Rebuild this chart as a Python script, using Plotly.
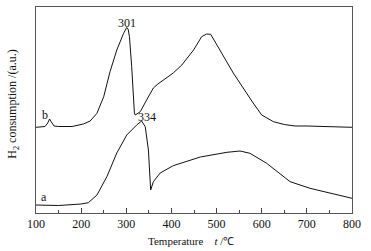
import plotly.graph_objects as go

# Curve b
temp_b = [100, 120, 126, 130, 134, 140, 150, 180, 205, 220, 235, 250, 264, 279, 294, 298, 301, 304, 307, 312, 316, 318, 320, 325, 331, 345, 360, 370, 382, 404, 423, 449, 467, 478, 487, 537, 581, 600, 626, 650, 674, 700, 800]
sig_b = [85.7, 86.5, 90, 94, 91, 87, 86.5, 86.5, 89, 92, 99.7, 116.3, 141.3, 163, 179.7, 184, 185.5, 184, 176.3, 146.3, 113, 100, 98, 99.5, 101.3, 113, 125, 129, 133, 140, 148, 163, 176.3, 179, 178.7, 140, 110, 98, 91.3, 88.5, 87, 87, 85.7]

# Curve a
temp_a = [100, 150, 200, 216, 235, 257, 279, 301, 323, 334, 342, 349, 354, 360, 375, 404, 464, 523, 552, 574, 611, 663, 707, 757, 800]
sig_a = [8, 7.5, 9, 10.3, 18, 36.3, 60, 78, 88, 92, 86.3, 63, 23, 31.3, 40, 47.3, 56, 60.7, 62, 59.7, 49.7, 31.3, 24.7, 19.7, 14.7]

x_ticks = [100, 200, 300, 400, 500, 600, 700, 800]

FONT = "Liberation Serif, Times New Roman, serif"

fig = go.Figure()
fig.add_trace(go.Scatter(x=temp_b, y=sig_b, mode="lines", line=dict(color="#111", width=1)))
fig.add_trace(go.Scatter(x=temp_a, y=sig_a, mode="lines", line=dict(color="#111", width=1)))

ann = [
    dict(x=301, y=190.5, text="301"),
    dict(x=345.6, y=96, text="334"),
    dict(x=120.6, y=98, text="b"),
    dict(x=116.8, y=16, text="a"),
]
for a in ann:
    fig.add_annotation(x=a["x"], y=a["y"], text=a["text"], showarrow=False,
                       font=dict(family=FONT, size=12, color="#111"))

# axis titles as annotations for precise placement
fig.add_annotation(xref="paper", yref="paper", x=0.348, y=-0.136, xanchor="left", yanchor="middle",
                   text="Temperature\u00a0\u00a0\u00a0\u00a0<i>t</i> /℃", showarrow=False,
                   font=dict(family=FONT, size=11, color="#111"))
fig.add_annotation(xref="paper", yref="paper", x=-0.073, y=0.53, xanchor="center", yanchor="middle",
                   textangle=-90, text="H<sub>2</sub> consumption /(a.u.)", showarrow=False,
                   font=dict(family=FONT, size=12, color="#111"))

fig.update_layout(
    width=371, height=251,
    margin=dict(l=36, r=19, t=7, b=38),
    paper_bgcolor="white", plot_bgcolor="white",
    showlegend=False,
    font=dict(family=FONT, size=12, color="#111"),
)
fig.update_xaxes(
    range=[100, 800], tickvals=x_ticks, ticktext=[str(v) for v in x_ticks],
    ticks="inside", ticklen=5, tickcolor="#444", tickwidth=1,
    minor=dict(dtick=50, tick0=100, ticks="inside", ticklen=3, tickcolor="#444", showgrid=False),
    showline=True, linecolor="#555", linewidth=1, mirror=True,
    showgrid=False, zeroline=False,
    tickfont=dict(family=FONT, size=12, color="#111"),
)
fig.update_yaxes(
    range=[0, 206], showticklabels=False, ticks="",
    showline=True, linecolor="#555", linewidth=1, mirror=True,
    showgrid=False, zeroline=False,
)

fig.write_html("out.html", config={"displayModeBar": False},
               post_script="document.body.style.margin='0';document.body.style.overflow='hidden';")
